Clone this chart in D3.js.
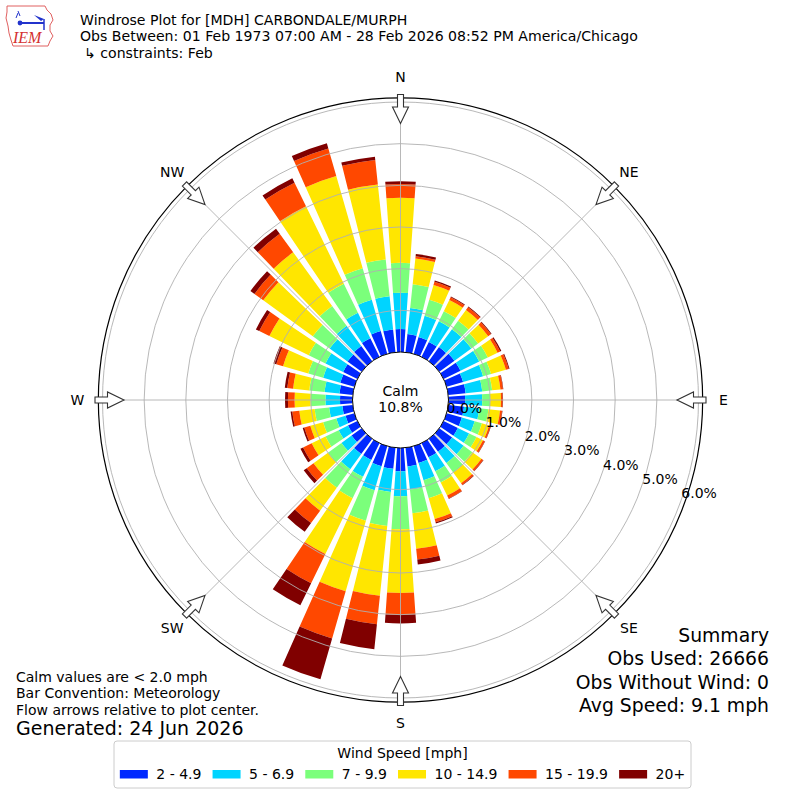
<!DOCTYPE html>
<html>
<head>
<meta charset="utf-8">
<script src="https://cdn.jsdelivr.net/npm/d3@7"></script>
<style>
body { margin: 0; background: #fff; }
text { font-family: "DejaVu Sans", sans-serif; fill: #000; }
</style>
</head>
<body>
<svg id="chart"></svg>
<script>
//------ Data ------
// bar directions (deg, where the wind comes from)
var directions = [0, 10, 20, 30, 40, 50, 60, 70, 80, 90, 100, 110, 120, 130, 140, 150, 160, 170,
    180, 190, 200, 210, 220, 230, 240, 250, 260, 270, 280, 290, 300, 310, 320, 330, 340, 350];

var speedBins = ["2 - 4.9", "5 - 6.9", "7 - 9.9", "10 - 14.9", "15 - 19.9", "20+"];
var binColors = ["#0028ff", "#00d4ff", "#7bff7b", "#ffe600", "#ff4800", "#800000"];

// % of observations per direction, one list per speed bin
var pct2to5 = [0.55, 0.44, 0.42, 0.40, 0.42, 0.45, 0.45, 0.41, 0.42, 0.40, 0.38, 0.38, 0.38, 0.38, 0.38, 0.38, 0.42, 0.45,
    0.56, 0.51, 0.50, 0.45, 0.45, 0.30, 0.25, 0.22, 0.25, 0.30, 0.32, 0.35, 0.38, 0.42, 0.45, 0.50, 0.57, 0.55];
var pct5to7 = [0.87, 0.63, 0.53, 0.55, 0.53, 0.50, 0.50, 0.50, 0.40, 0.41, 0.37, 0.32, 0.30, 0.34, 0.34, 0.37, 0.43, 0.56,
    0.60, 0.56, 0.60, 0.45, 0.45, 0.30, 0.25, 0.23, 0.32, 0.35, 0.36, 0.43, 0.47, 0.53, 0.60, 0.68, 0.78, 0.80];
var pct7to10 = [0.72, 0.57, 0.40, 0.27, 0.25, 0.20, 0.23, 0.20, 0.24, 0.19, 0.22, 0.18, 0.20, 0.26, 0.28, 0.30, 0.45, 0.57,
    0.79, 0.82, 0.76, 0.57, 0.55, 0.40, 0.35, 0.33, 0.35, 0.36, 0.37, 0.37, 0.45, 0.50, 0.59, 0.77, 0.79, 0.89];
var pct10to15 = [1.56, 0.62, 0.37, 0.30, 0.32, 0.30, 0.26, 0.37, 0.20, 0.26, 0.28, 0.18, 0.17, 0.27, 0.32, 0.35, 0.52, 0.86,
    1.53, 1.68, 1.76, 1.49, 0.68, 0.43, 0.37, 0.32, 0.37, 0.38, 0.39, 0.63, 1.05, 1.47, 1.59, 2.07, 2.30, 1.81];
var pct15to20 = [0.33, 0.06, 0.08, 0.07, 0.08, 0.08, 0.07, 0.07, 0.06, 0.04, 0.05, 0.04, 0.05, 0.05, 0.05, 0.08, 0.08, 0.26,
    0.52, 0.69, 1.18, 0.78, 0.37, 0.20, 0.23, 0.15, 0.17, 0.16, 0.14, 0.17, 0.27, 0.26, 0.55, 0.63, 0.69, 0.59];
var pct20plus = [0.07, 0.05, 0.03, 0.02, 0.02, 0.02, 0.03, 0.02, 0.01, 0.01, 0.01, 0.01, 0.01, 0.01, 0.01, 0.01, 0.03, 0.12,
    0.21, 0.60, 1.02, 0.59, 0.26, 0.09, 0.07, 0.04, 0.04, 0.07, 0.06, 0.07, 0.09, 0.12, 0.15, 0.12, 0.13, 0.08];

var radialTicks = [0, 1, 2, 3, 4, 5, 6];
var compassLabels = ["N", "NE", "E", "SE", "S", "SW", "W", "NW"];
var compassAngles = [0, 45, 90, 135, 180, 225, 270, 315];
var calmPct = 10.8;

var titleLines = ["Windrose Plot for [MDH] CARBONDALE/MURPH",
    "Obs Between: 01 Feb 1973 07:00 AM - 28 Feb 2026 08:52 PM America/Chicago",
    "\u21b3 constraints: Feb"];
var noteLines = ["Calm values are < 2.0 mph", "Bar Convention: Meteorology", "Flow arrows relative to plot center."];
var generatedText = "Generated: 24 Jun 2026";
var summaryLines = ["Summary", "Obs Used: 26666", "Obs Without Wind: 0", "Avg Speed: 9.1 mph"];

//------ Setup ------
var width = 800, height = 800;
var cx = 400.5, cy = 400;

var svg = d3.select("#chart")
    .attr("width", width)
    .attr("height", height);

svg.append("rect").attr("width", width).attr("height", height).attr("fill", "#fff");

// radius scale : 0% sits on the calm circle
var r = d3.scaleLinear().domain([0, 6]).range([48, 298]);
var rMax = 6.1;
var rad = Math.PI / 180;

// table for the stack
var keys = ["b0", "b1", "b2", "b3", "b4", "b5"];
var binLists = [pct2to5, pct5to7, pct7to10, pct10to15, pct15to20, pct20plus];
var rows = directions.map(function (dir, i) {
    var row = { dir: dir };
    keys.forEach(function (k, j) { row[k] = binLists[j][i]; });
    return row;
});
var series = d3.stack().keys(keys)(rows);

var g = svg.append("g").attr("transform", "translate(" + cx + "," + cy + ")");

//------ Bars ------
var opening = 8; // degrees of a 10 deg sector
var arc = d3.arc()
    .innerRadius(function (d) { return r(d[0]); })
    .outerRadius(function (d) { return r(d[1]); })
    .startAngle(function (d) { return (d.data.dir - opening / 2) * rad; })
    .endAngle(function (d) { return (d.data.dir + opening / 2) * rad; });

g.selectAll("g.bin")
    .data(series)
    .enter()
    .append("g")
    .attr("class", "bin")
    .attr("fill", function (d, i) { return binColors[i]; })
    .selectAll("path")
    .data(function (d) { return d; })
    .enter()
    .append("path")
    .attr("d", arc);

//------ Grid ------
g.selectAll("circle.ring")
    .data(radialTicks.slice(1))
    .enter()
    .append("circle")
    .attr("class", "ring")
    .attr("r", function (d) { return r(d); })
    .attr("fill", "none")
    .attr("stroke", "#b0b0b0")
    .attr("stroke-width", 0.9);

g.selectAll("line.spoke")
    .data(compassAngles)
    .enter()
    .append("line")
    .attr("class", "spoke")
    .attr("x1", 0).attr("y1", 0)
    .attr("x2", function (d) { return r(rMax) * Math.sin(d * rad); })
    .attr("y2", function (d) { return -r(rMax) * Math.cos(d * rad); })
    .attr("stroke", "#b0b0b0")
    .attr("stroke-width", 0.9);

// calm circle
g.append("circle")
    .attr("r", r(0))
    .attr("fill", "#fff")
    .attr("stroke", "#000")
    .attr("stroke-width", 1);

g.append("text").attr("text-anchor", "middle").attr("y", -4.5)
    .style("font-size", "14px").text("Calm");
g.append("text").attr("text-anchor", "middle").attr("y", 12)
    .style("font-size", "14px").text(calmPct.toFixed(1) + "%");

// outer frame
g.append("circle")
    .attr("r", r(rMax))
    .attr("fill", "none")
    .attr("stroke", "#000")
    .attr("stroke-width", 1.2);

// radial tick labels along 110 deg
var labelAngle = 110.1;
g.selectAll("text.rlabel")
    .data(radialTicks)
    .enter()
    .append("text")
    .attr("class", "rlabel")
    .attr("x", function (d) { return r(d) * Math.sin(labelAngle * rad) + 1; })
    .attr("y", function (d) { return -r(d) * Math.cos(labelAngle * rad) - 4; })
    .style("font-size", "14px")
    .text(function (d) { return d.toFixed(1) + "%"; });

//------ Flow arrows ------
var arrowPts = [[-3, -305.5], [3, -305.5], [3, -293], [8, -293], [0, -276.5], [-8, -293], [-3, -293]];
g.selectAll("polygon.arrow")
    .data(compassAngles)
    .enter()
    .append("polygon")
    .attr("class", "arrow")
    .attr("points", arrowPts.map(function (p) { return p.join(","); }).join(" "))
    .attr("transform", function (d) { return "rotate(" + d + ")"; })
    .attr("fill", "#fff")
    .attr("stroke", "#333")
    .attr("stroke-width", 1.1);

// compass labels
g.selectAll("text.compass")
    .data(compassLabels)
    .enter()
    .append("text")
    .attr("class", "compass")
    .attr("text-anchor", "middle")
    .attr("x", function (d, i) { return 323 * Math.sin(compassAngles[i] * rad); })
    .attr("y", function (d, i) { return -323 * Math.cos(compassAngles[i] * rad) + 5; })
    .style("font-size", "14px")
    .text(function (d) { return d; });

//------ Header ------
var logo = svg.append("g").attr("transform", "translate(0,0)");
logo.append("path")
    .attr("d", "M7,6 L45,6 L47,10 L51,14 L53,20 L50,25 L50,31 L53,36 L50,41 L48,46 L13,46 L11,40 L9,33 L8,26 L6,18 L7,12 Z")
    .attr("fill", "#fff")
    .attr("stroke", "#e06060")
    .attr("stroke-width", 1);
logo.append("line").attr("x1", 20).attr("y1", 23).attr("x2", 44).attr("y2", 23)
    .attr("stroke", "#2233cc").attr("stroke-width", 2);
logo.append("circle").attr("cx", 20).attr("cy", 23).attr("r", 2.4).attr("fill", "#2233cc");
logo.append("path").attr("d", "M34,15 L44,19 L41,21 Z").attr("fill", "#2233cc");
logo.append("line").attr("x1", 44).attr("y1", 19).attr("x2", 44).attr("y2", 30)
    .attr("stroke", "#2233cc").attr("stroke-width", 1.5);
logo.append("path").attr("d", "M18,11 L20,16 M18,13 L16,18").attr("stroke", "#2233cc").attr("stroke-width", 1).attr("fill", "none");
logo.append("text").attr("x", 13).attr("y", 43)
    .style("font-family", "'Liberation Serif', serif").style("font-style", "italic")
    .style("font-size", "16px").style("fill", "#d43030").text("IEM");

svg.selectAll("text.title")
    .data(titleLines)
    .enter()
    .append("text")
    .attr("class", "title")
    .attr("x", function (d, i) { return i == 2 ? 84 : 80; })
    .attr("y", function (d, i) { return 24.5 + i * 16.7; })
    .style("font-size", "14.1px")
    .text(function (d) { return d; });

//------ Footer texts ------
svg.selectAll("text.note")
    .data(noteLines)
    .enter()
    .append("text")
    .attr("class", "note")
    .attr("x", 16)
    .attr("y", function (d, i) { return 681.5 + i * 16.7; })
    .style("font-size", "14px")
    .text(function (d) { return d; });

svg.append("text").attr("x", 16).attr("y", 735)
    .style("font-size", "19px").text(generatedText);

svg.selectAll("text.summary")
    .data(summaryLines)
    .enter()
    .append("text")
    .attr("class", "summary")
    .attr("text-anchor", "end")
    .attr("x", 769)
    .attr("y", function (d, i) { return 642 + i * 23.4; })
    .style("font-size", "18.8px")
    .text(function (d) { return d; });

//------ Legend ------
var legend = svg.append("g");
var legBox = legend.append("rect")
    .attr("y", 741).attr("height", 47)
    .attr("rx", 3)
    .attr("fill", "#fff")
    .attr("stroke", "#cccccc")
    .attr("stroke-width", 1);

var items = legend.selectAll("g.item")
    .data(speedBins)
    .enter()
    .append("g")
    .attr("class", "item");
items.append("rect")
    .attr("y", 770).attr("width", 28).attr("height", 8.5)
    .attr("fill", function (d, i) { return binColors[i]; });
items.append("text")
    .attr("x", 36.5).attr("y", 779)
    .style("font-size", "14px")
    .text(function (d) { return d; });

// place the items one after another, then center the whole row
var xPos = 0;
var offsets = [];
items.each(function () {
    offsets.push(xPos);
    xPos += 36.5 + d3.select(this).select("text").node().getComputedTextLength() + 11.1;
});
var rowW = xPos - 11.1;
var x0 = 402.5 - rowW / 2;
items.attr("transform", function (d, i) { return "translate(" + (x0 + offsets[i]) + ",0)"; });
legBox.attr("x", 114).attr("width", 577);

legend.append("text")
    .attr("text-anchor", "middle")
    .attr("x", 402.5).attr("y", 758)
    .style("font-size", "14px")
    .text("Wind Speed [mph]");
</script>
</body>
</html>
